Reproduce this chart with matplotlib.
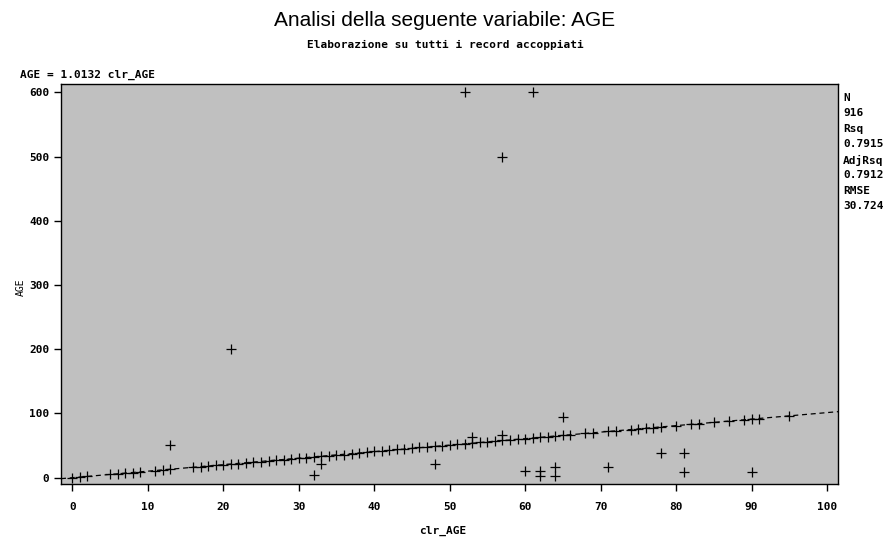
import matplotlib.pyplot as plt
import numpy as np

# Data
slope = 1.0132
line_x = [0, 1, 2, 5, 6, 7, 8, 9, 11, 12, 13] + list(range(16, 67)) + \
         [68, 69, 71, 72, 74, 75, 76, 77, 78, 80, 82, 83, 85, 87, 89, 90, 91, 95]
out_x = [52, 61, 57, 21, 13, 65, 53, 57, 32, 33, 48, 60, 62, 62, 64, 64, 71, 78, 81, 81, 90]
out_y = [600, 600, 500, 200, 51, 95, 63, 66, 4, 21, 21, 10, 11, 2, 16, 2, 16, 39, 39, 9, 9]
stats_labels = ["N", "Rsq", "AdjRsq", "RMSE"]
stats_values = ["916", "0.7915", "0.7912", "30.724"]

mono = "DejaVu Sans Mono"

fig = plt.figure(figsize=(8.87, 5.40), dpi=100)
ax = fig.add_axes([61 / 887, 1 - 484.3 / 540, (838.3 - 61) / 887, (484.3 - 84.3) / 540])
ax.set_facecolor("#c0c0c0")

# Points on the line and outliers
lx = np.array(line_x)
ax.plot(lx, np.round(lx * slope), ls="none", marker="+", ms=6.5, mew=0.9, color="black")
ax.plot(out_x, out_y, ls="none", marker="+", ms=6.5, mew=0.9, color="black")

# Regression line
xr = np.array([-1.5, 101.5])
ax.plot(xr, slope * xr, ls=(0, (4, 3)), lw=0.9, color="black")

ax.set_xlim(-1.5, 101.5)
ax.set_ylim(-10.3, 612.5)
ax.set_xticks(range(0, 101, 10))
ax.set_yticks(range(0, 601, 100))
ax.tick_params(direction="out", length=5, width=1, labelsize=8)
for lab in ax.get_xticklabels() + ax.get_yticklabels():
    lab.set_fontfamily(mono)
    lab.set_fontweight("bold")
ax.tick_params(axis="x", pad=8)
for s in ax.spines.values():
    s.set_linewidth(1)

# Axis labels
fig.text(443 / 887, 1 - 531 / 540, "clr_AGE", ha="center", va="center",
         fontfamily=mono, fontweight="bold", fontsize=8)
fig.text(21 / 887, 1 - 287 / 540, "AGE", ha="center", va="center", rotation=90,
         fontfamily=mono, fontsize=7)

# Titles
fig.text(445 / 887, 1 - 20 / 540, "Analisi della seguente variabile: AGE",
         ha="center", va="center", fontsize=15, fontfamily="Liberation Sans")
fig.text(445 / 887, 1 - 45 / 540, "Elaborazione su tutti i record accoppiati",
         ha="center", va="center", fontsize=8, fontfamily=mono, fontweight="bold")
fig.text(20 / 887, 1 - 75 / 540, "AGE = 1.0132 clr_AGE",
         ha="left", va="center", fontsize=8, fontfamily=mono, fontweight="bold")

# Statistics on the right
y0 = 98
for i, (lab, val) in enumerate(zip(stats_labels, stats_values)):
    fig.text(843 / 887, 1 - (y0 + i * 31) / 540, lab, ha="left", va="center",
             fontsize=8, fontfamily=mono, fontweight="bold")
    fig.text(843 / 887, 1 - (y0 + 15 + i * 31) / 540, val, ha="left", va="center",
             fontsize=8, fontfamily=mono, fontweight="bold")

plt.savefig("out.png", dpi=100)
